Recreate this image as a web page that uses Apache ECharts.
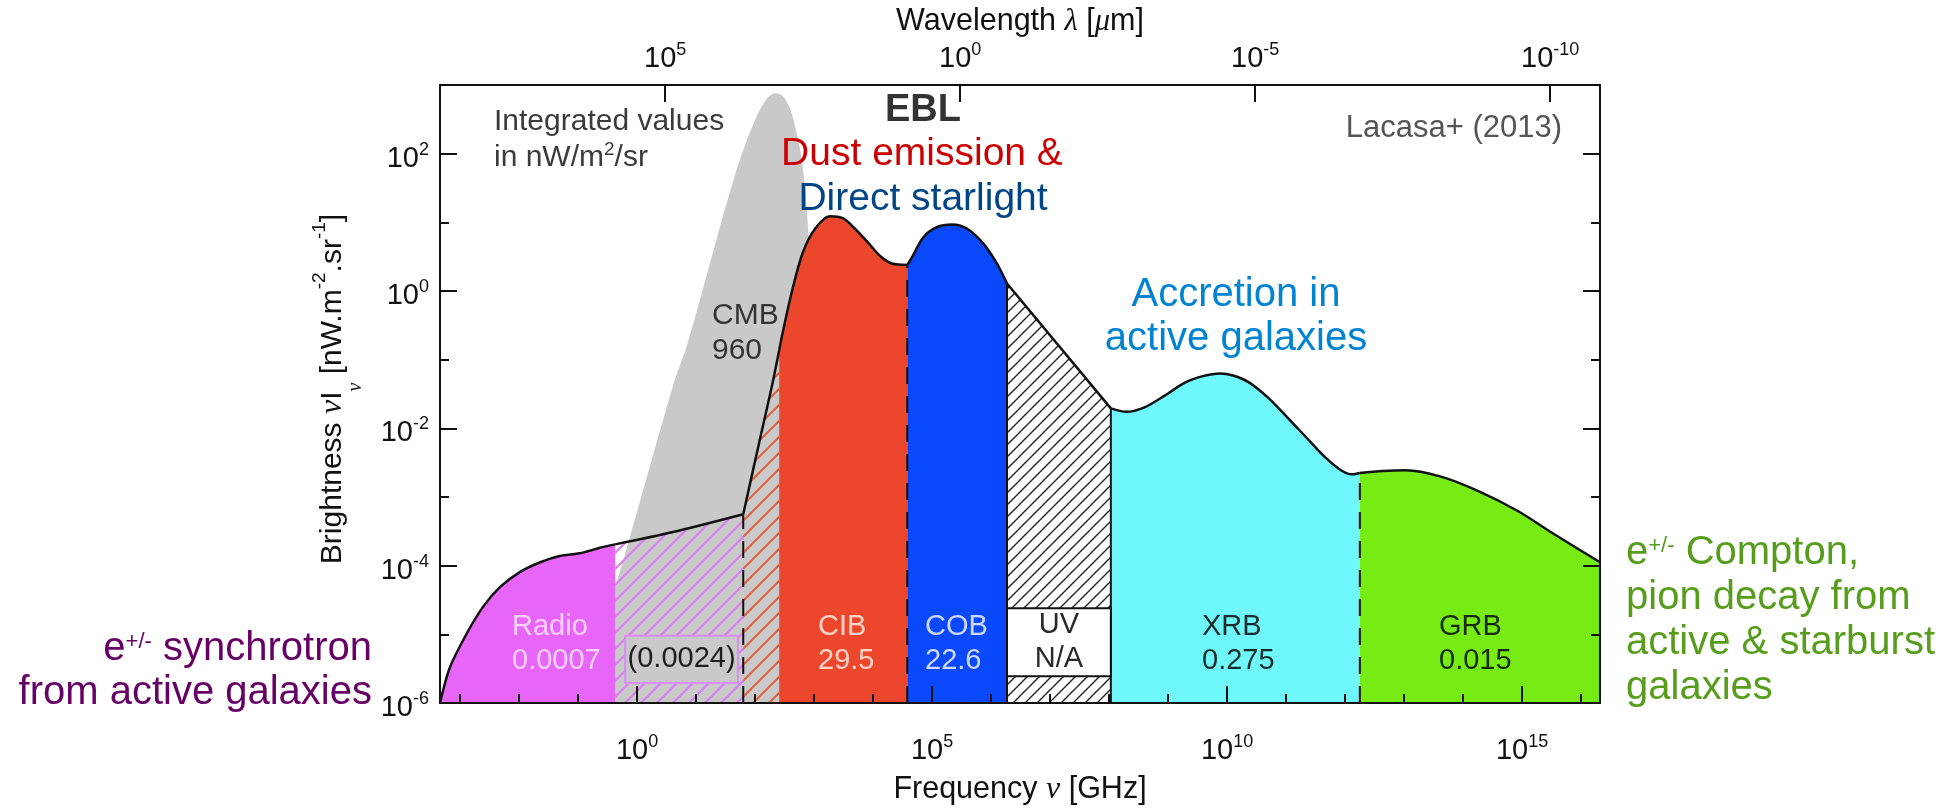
<!DOCTYPE html>
<html>
<head>
<meta charset="utf-8">
<script src="https://cdn.jsdelivr.net/npm/echarts@6/dist/echarts.min.js"></script>
<style>
  html, body { margin: 0; padding: 0; background: #ffffff; }
  #chart { width: 1960px; height: 808px; }
</style>
</head>
<body>
<div id="chart"></div>
<script>
// ---------------------------------------------------------------------------
// Data (log10 of frequency in GHz, log10 of brightness in nW m^-2 sr^-1)
// ---------------------------------------------------------------------------
const NU_MIN = -3.339, NU_MAX = 16.32;     // frequency range shown
const I_MIN = -6, I_MAX = 3;               // brightness range shown

// Total extragalactic background envelope
const eblLogNu = [-3.339, -3.17, -2.88, -2.61, -2.32, -1.98, -1.64, -1.31, -0.97, -0.63, -0.37,
  0.61, 1.80, 2.08, 2.29, 2.41, 2.46, 2.63, 2.81, 3.02, 3.27, 3.49, 3.69, 3.92, 4.12, 4.32, 4.58,
  4.66, 4.85, 5.08, 5.34, 5.59, 5.86, 6.10, 6.27, 8.03, 8.29, 8.61, 8.95, 9.27, 9.59, 9.88, 10.10,
  10.37, 10.69, 11.02, 11.34, 11.66, 11.93, 12.12, 12.25, 12.64, 13.03, 13.61, 14.25, 14.92, 15.56, 16.32];
const eblLogI = [-6.0, -5.48, -4.98, -4.60, -4.31, -4.09, -3.95, -3.86, -3.82, -3.74, -3.69,
  -3.51, -3.25, -2.17, -1.37, -0.86, -0.64, 0.01, 0.56, 0.91, 1.09, 1.06, 0.91, 0.70, 0.51, 0.40, 0.38,
  0.49, 0.78, 0.93, 0.97, 0.91, 0.70, 0.40, 0.11, -1.71, -1.76, -1.69, -1.52, -1.34, -1.24, -1.20, -1.23,
  -1.33, -1.55, -1.84, -2.13, -2.42, -2.61, -2.67, -2.65, -2.62, -2.61, -2.70, -2.91, -3.20, -3.55, -3.95];

// Cosmic microwave background
const cmbLogNu = [-0.95, -0.17, 0.61, 0.85, 1.19, 1.46, 1.75, 2.03, 2.20, 2.34, 2.47, 2.59, 2.70, 2.78, 2.85, 2.92, 3.00, 3.08, 3.15];
const cmbLogI  = [-6.0, -3.73, -1.38, -0.78, 0.26, 1.10, 1.93, 2.55, 2.80, 2.88, 2.84, 2.66, 2.32, 1.98, 1.47, 0.65, -0.6, -2.5, -6.0];

// Bands along the envelope
const bandNames  = ['Radio', 'Radio + CMB', 'CIB + CMB', 'CIB', 'COB', 'UV', 'XRB', 'GRB'];
const bandEdges  = [-3.339, -0.37, 1.80, 2.41, 4.58, 6.27, 8.03, 12.25, 16.32];
const bandTitles = ['Radio', '', '', 'CIB', 'COB', 'UV', 'XRB', 'GRB'];
const bandTotals = ['0.0007', '(0.0024)', '', '29.5', '22.6', 'N/A', '0.275', '0.015'];

// Axis ticks
const nuDecades = [-3, -2, -1, 0, 1, 2, 3, 4, 5, 6, 7, 8, 9, 10, 11, 12, 13, 14, 15, 16];
const nuMajor = [0, 5, 10, 15];
const lambdaExps = [5, 0, -5, -10];            // wavelength in micron
const brightMajor = [-6, -4, -2, 0, 2];
const brightMinor = [-5, -3, -1, 1];

// ---------------------------------------------------------------------------
const FONT = '"Liberation Sans", Arial, sans-serif';
const SERIF = '"Liberation Serif", "DejaVu Serif", serif';
const INK = '#111111';
const LOG_C = Math.log10(2.998e5);             // lambda[um] = c / nu[GHz]

function hatch(color, step, width) {
  const c = document.createElement('canvas');
  c.width = step; c.height = step;
  const g = c.getContext('2d');
  g.strokeStyle = color; g.lineWidth = width;
  g.beginPath();
  g.moveTo(0, step); g.lineTo(step, 0);
  g.moveTo(-step / 2, step / 2); g.lineTo(step / 2, -step / 2);
  g.moveTo(step / 2, step * 1.5); g.lineTo(step * 1.5, step / 2);
  g.stroke();
  return { image: c, repeat: 'repeat' };
}

const bandFills = [
  '#e766f8',
  hatch('#da7cf4', 16, 2),
  hatch('#e2603c', 16, 2),
  '#ec472d',
  '#0a48fc',
  hatch('#222222', 12, 1.4),
  '#6ff8fb',
  '#77ec14'
];

const eblPts = eblLogNu.map((x, i) => [x, eblLogI[i]]);
const cmbPts = cmbLogNu.map((x, i) => [x, cmbLogI[i]]);
function envelopeAt(x) {
  const p = eblPts.find(q => Math.abs(q[0] - x) < 1e-6);
  return p ? p[1] : I_MIN;
}

const bandSeries = bandNames.map((name, i) => ({
  name: name,
  type: 'line',
  silent: true,
  z: 3,
  smooth: 0.3,
  symbol: 'none',
  data: eblPts.filter(p => p[0] >= bandEdges[i] - 1e-6 && p[0] <= bandEdges[i + 1] + 1e-6),
  lineStyle: { color: INK, width: 2.5 },
  areaStyle: { color: bandFills[i], opacity: 1, origin: 'start' }
}));

// band separators: dashed where bands meet, solid around the UV gap
const dividers = [
  { x: bandEdges[2], dash: true },
  { x: bandEdges[4], dash: true },
  { x: bandEdges[5], dash: false },
  { x: bandEdges[6], dash: false },
  { x: bandEdges[7], dash: true }
];

// boxed labels (data coordinates of the box corners)
const boxes = [
  { x0: bandEdges[5], x1: bandEdges[6], y0: -5.61, y1: -4.62,
    text: bandTitles[5] + '\n' + bandTotals[5], fill: '#ffffff', stroke: INK, color: '#2a2a2a' },
  { x0: -0.20, x1: 1.71, y0: -5.71, y1: -5.02,
    text: bandTotals[1], fill: '#c9c9c9', stroke: '#d98cf2', color: '#1e1e1e' }
];

const tickRich = {
  b: { fontSize: 29, fontFamily: FONT, color: INK, lineHeight: 36 },
  s: { fontSize: 18, fontFamily: FONT, color: INK, verticalAlign: 'top' }
};
const pow10 = e => '{b|10}{s|' + e + '}';

function baseAxis(extra) {
  return Object.assign({
    type: 'value', z: 10, splitLine: { show: false },
    axisLine: { show: false, onZero: false, lineStyle: { color: INK, width: 2 } },
    axisTick: { show: false },
    axisLabel: { show: false }
  }, extra);
}
const tickLine = { color: INK, width: 2 };

const xAxes = [
  baseAxis({ position: 'bottom', min: NU_MIN, max: NU_MAX,
    axisLine: { show: true, onZero: false, lineStyle: { color: INK, width: 2 } },
    axisTick: { show: true, inside: true, length: 9, customValues: nuDecades, lineStyle: tickLine } }),
  baseAxis({ position: 'bottom', min: NU_MIN, max: NU_MAX,
    axisTick: { show: true, inside: true, length: 17, customValues: nuMajor, lineStyle: tickLine },
    axisLabel: { show: true, customValues: nuMajor, margin: 30, formatter: v => pow10(Math.round(v)), rich: tickRich } }),
  baseAxis({ position: 'top', min: NU_MIN, max: NU_MAX,
    axisLine: { show: true, onZero: false, lineStyle: { color: INK, width: 2 } },
    axisTick: { show: true, inside: true, length: 17, customValues: lambdaExps.map(e => LOG_C - e), lineStyle: tickLine },
    axisLabel: { show: true, customValues: lambdaExps.map(e => LOG_C - e), margin: 8,
      formatter: v => pow10(Math.round(LOG_C - v)), rich: tickRich } })
];
const yAxes = [
  baseAxis({ position: 'left', min: I_MIN, max: I_MAX,
    axisLine: { show: true, onZero: false, lineStyle: { color: INK, width: 2 } },
    axisTick: { show: true, inside: true, length: 9, customValues: brightMinor, lineStyle: tickLine } }),
  baseAxis({ position: 'left', min: I_MIN, max: I_MAX,
    axisTick: { show: true, inside: true, length: 17, customValues: brightMajor, lineStyle: tickLine },
    axisLabel: { show: true, customValues: brightMajor, margin: 11, padding: [10, 0, 0, 0],
      formatter: v => pow10(Math.round(v)), rich: tickRich } }),
  baseAxis({ position: 'right', min: I_MIN, max: I_MAX,
    axisLine: { show: true, onZero: false, lineStyle: { color: INK, width: 2 } },
    axisTick: { show: true, inside: true, length: 9, customValues: brightMinor, lineStyle: tickLine } }),
  baseAxis({ position: 'right', min: I_MIN, max: I_MAX,
    axisTick: { show: true, inside: true, length: 17, customValues: brightMajor, lineStyle: tickLine } })
];

// ---------------------------------------------------------------------------
// Text annotations (pixel positions)
function txt(x, y, text, size, fill, extra) {
  return { type: 'text', x: x, y: y, z: 100, silent: true,
    style: Object.assign({ text: text, fontSize: size, fontFamily: FONT, fill: fill,
      align: 'left', verticalAlign: 'middle' }, extra || {}) };
}
const greek = { fontFamily: SERIF, fontStyle: 'italic' };

const graphics = [
  // axis titles
  txt(1020, 22, 'Wavelength {g|λ} [{g|μ}m]', 30.5, INK, { align: 'center',
    rich: { g: Object.assign({ fontSize: 30.5, fill: INK }, greek) } }),
  txt(1020, 790, 'Frequency {g|ν} [GHz]', 30.5, INK, { align: 'center',
    rich: { g: Object.assign({ fontSize: 32, fill: INK }, greek) } }),
  Object.assign(txt(333, 389, 'Brightness {g|ν}I{sub|ν} [nW.m{sup|-2}.sr{sup|-1}]', 30, INK, {
    align: 'center', lineHeight: 66,
    rich: {
      g: Object.assign({ fontSize: 32, fill: INK }, greek),
      sub: Object.assign({ fontSize: 20, fill: INK, verticalAlign: 'bottom' }, greek),
      sup: { fontSize: 19, fontFamily: FONT, fill: INK, verticalAlign: 'top', padding: [10, 0, 0, 0] }
    } }), { rotation: Math.PI / 2 }),

  // notes inside the frame
  txt(494, 122, 'Integrated values', 30, '#3b3b3b'),
  txt(494, 158, 'in nW/m{s|2}/sr', 30, '#3b3b3b', { lineHeight: 36,
    rich: { s: { fontSize: 19, fontFamily: FONT, fill: '#3b3b3b', verticalAlign: 'top' } } }),
  txt(1562, 128, 'Lacasa+ (2013)', 31, '#555555', { align: 'right' }),
  txt(712, 316, 'CMB', 30, '#333333'),
  txt(712, 351, '960', 30, '#333333'),
  txt(923, 111, 'EBL', 38, '#333333', { align: 'center', fontWeight: 'bold' }),
  txt(922, 154, 'Dust emission &', 39, '#cc0000', { align: 'center' }),
  txt(923, 199, 'Direct starlight', 39, '#004586', { align: 'center' }),
  txt(1236, 295, 'Accretion in', 40, '#0084d1', { align: 'center' }),
  txt(1236, 339, 'active galaxies', 40, '#0084d1', { align: 'center' }),

  // band labels
  txt(512, 627, bandTitles[0], 29, '#f9d0fd'),
  txt(512, 661, bandTotals[0], 29, '#f9d0fd'),
  txt(818, 627, bandTitles[3], 29, '#ffd2c6'),
  txt(818, 661, bandTotals[3], 29, '#ffd2c6'),
  txt(925, 627, bandTitles[4], 29, '#cfd8ff'),
  txt(925, 661, bandTotals[4], 29, '#cfd8ff'),
  txt(1202, 627, bandTitles[6], 29, '#1a2e2e'),
  txt(1202, 661, bandTotals[6], 29, '#1a2e2e'),
  txt(1439, 627, bandTitles[7], 29, '#142a0a'),
  txt(1439, 661, bandTotals[7], 29, '#142a0a'),

  // emission processes outside the frame
  txt(372, 649, 'e{p|+/-} synchrotron', 40, '#660066', { align: 'right',
    rich: { p: { fontSize: 22, fontFamily: FONT, fill: '#660066', verticalAlign: 'top', padding: [2, 0, 0, 0] } } }),
  txt(372, 693, 'from active galaxies', 40, '#660066', { align: 'right' }),
  txt(1626, 553, 'e{p|+/-} Compton,', 40, '#579d1c', {
    rich: { p: { fontSize: 22, fontFamily: FONT, fill: '#579d1c', verticalAlign: 'top', padding: [2, 0, 0, 0] } } }),
  txt(1626, 598, 'pion decay from', 40, '#579d1c'),
  txt(1626, 643, 'active & starburst', 40, '#579d1c'),
  txt(1626, 688, 'galaxies', 40, '#579d1c')
];

// ---------------------------------------------------------------------------
const option = {
  animation: false,
  backgroundColor: '#ffffff',
  textStyle: { fontFamily: FONT },
  grid: { left: 440, top: 85, width: 1160, height: 618, outerBoundsMode: 'none' },
  xAxis: xAxes,
  yAxis: yAxes,
  graphic: graphics,
  series: [
    {
      name: 'CMB',
      type: 'line',
      silent: true,
      z: 2,
      smooth: 0.3,
      symbol: 'none',
      data: cmbPts,
      lineStyle: { width: 0 },
      areaStyle: { color: '#c9c9c9', opacity: 1, origin: 'start' }
    },
    ...bandSeries,
    {
      name: 'separators',
      type: 'custom',
      silent: true,
      z: 4,
      data: dividers.map(d => [d.x, I_MIN, envelopeAt(d.x)]),
      encode: { x: 0, y: [1, 2] },
      renderItem: function (params, api) {
        const d = dividers[params.dataIndex];
        const p0 = api.coord([api.value(0), api.value(1)]);
        const p1 = api.coord([api.value(0), api.value(2)]);
        return {
          type: 'line',
          shape: { x1: p0[0], y1: p0[1], x2: p1[0], y2: p1[1] },
          style: { stroke: INK, lineWidth: 2, lineDash: d.dash ? [17, 12] : null }
        };
      }
    },
    {
      name: 'boxes',
      type: 'custom',
      silent: true,
      z: 5,
      data: boxes.map(b => [b.x0, b.y0, b.x1, b.y1]),
      encode: { x: [0, 2], y: [1, 3] },
      renderItem: function (params, api) {
        const b = boxes[params.dataIndex];
        const tl = api.coord([api.value(0), api.value(3)]);
        const br = api.coord([api.value(2), api.value(1)]);
        return {
          type: 'group',
          children: [
            { type: 'rect',
              shape: { x: tl[0], y: tl[1], width: br[0] - tl[0], height: br[1] - tl[1] },
              style: { fill: b.fill, stroke: b.stroke, lineWidth: 2 } },
            { type: 'text',
              style: { text: b.text, x: (tl[0] + br[0]) / 2, y: (tl[1] + br[1]) / 2,
                align: 'center', verticalAlign: 'middle', fontSize: 29, fontFamily: FONT,
                lineHeight: 34, fill: b.color } }
          ]
        };
      }
    }
  ]
};

const chart = echarts.init(document.getElementById('chart'), null, { renderer: 'canvas' });
chart.setOption(option);
</script>
</body>
</html>
